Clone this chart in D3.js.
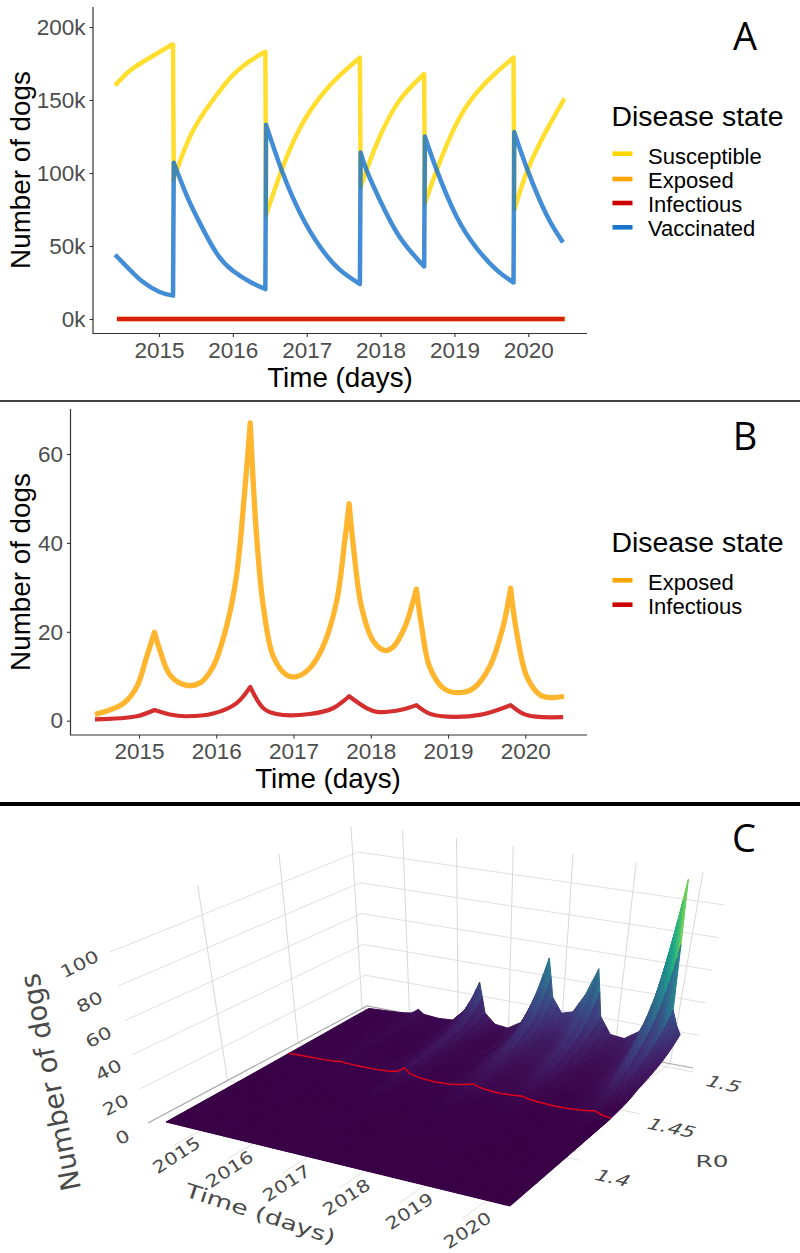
<!DOCTYPE html>
<html><head><meta charset="utf-8">
<script src="https://cdnjs.cloudflare.com/ajax/libs/d3/7.8.5/d3.min.js"></script>
<style>html,body{margin:0;padding:0;background:#fff}svg{display:block}</style></head>
<body><svg id="c" width="800" height="1253" xmlns="http://www.w3.org/2000/svg"></svg>
<script>
// ---------- Panel A/B data ----------
const yearTicks=[2015,2016,2017,2018,2019,2020];
const tickA=[0,50000,100000,150000,200000];
const tickB=[0,20,40,60];
const legendA=["Susceptible","Exposed","Infectious","Vaccinated"];
const legendB=["Exposed","Infectious"];
const timeS=[2014.405,2014.58,2014.78,2015.11,2015.19,2015.2,2015.22,2015.44,2015.73,2016.0,2016.27,2016.44,2016.45,2016.66,2016.91,2017.18,2017.45,2017.72,2017.73,2017.81,2017.99,2018.26,2018.59,2018.6,2018.76,2019.03,2019.3,2019.57,2019.8,2019.81,2019.99,2020.25,2020.49];
const susceptible=[160,169,176,186,188,97,99,127,150,167,178,183,71,102,131,152,167,179,90,102,125,150,167.8,79,102,134,155,169,179,74.6,102,129.5,151];
const timeV=[2014.405,2014.58,2014.78,2015.01,2015.19,2015.2,2015.38,2015.55,2015.78,2016.0,2016.23,2016.44,2016.45,2016.66,2016.91,2017.18,2017.45,2017.72,2017.73,2017.81,2017.99,2018.26,2018.59,2018.6,2018.76,2019.03,2019.3,2019.57,2019.8,2019.81,2019.99,2020.25,2020.47];
const vaccinated=[44,35,25.5,18.5,16,107,84,66,45,33,25.5,20.5,133,102,72.6,49.5,33.6,24,114,102,81.5,56,36,125,102,70,48.6,33.6,25,128,102,71,52.5];
const timeE=[2014.43,2014.62,2014.8,2014.97,2015.1,2015.2,2015.27,2015.4,2015.6,2015.79,2015.96,2016.13,2016.26,2016.37,2016.44,2016.52,2016.61,2016.74,2016.91,2017.04,2017.21,2017.38,2017.56,2017.66,2017.72,2017.77,2017.88,2018.03,2018.18,2018.29,2018.44,2018.55,2018.59,2018.66,2018.76,2018.94,2019.13,2019.33,2019.54,2019.71,2019.81,2019.89,2020.02,2020.19,2020.36,2020.5];
const exposed=[1.4,2.4,3.9,7.6,14.4,19.9,15.9,10.3,8,8.5,12.2,21,32.4,52,67,42,25.6,14.4,10.3,9.9,11.8,16.6,27,40,48.8,40,25.6,18,15.8,16.6,21,27,29.6,21,12.2,7.3,6.3,7.3,12.2,21,29.8,19.7,9.9,5.8,5.2,5.5];
const timeI=[2014.43,2014.97,2015.2,2015.4,2015.6,2015.96,2016.26,2016.44,2016.61,2016.78,2017.21,2017.51,2017.72,2017.95,2018.08,2018.38,2018.59,2018.76,2019.0,2019.41,2019.81,2019.97,2020.14,2020.49];
const infectious=[0.3,1,2.4,1.4,1,1.6,3.9,7.6,2.8,1.5,1.5,2.8,5.5,2.8,2,2.4,3.5,1.6,0.9,1.3,3.5,1.6,0.9,0.8];
// ---------- Panel C data ----------
const timeC=[2014.12,2014.5,2014.85,2015.05,2015.19,2015.3,2015.6,2015.9,2016.15,2016.32,2016.44,2016.55,2016.75,2017.0,2017.3,2017.55,2017.72,2017.82,2018.0,2018.2,2018.4,2018.59,2018.7,2018.9,2019.15,2019.4,2019.6,2019.72,2019.81,2019.9,2020.0,2020.08];
const r0Rows=[1.382,1.42,1.45,1.47,1.49,1.503];
const row1382=[0,0,0,0,0,0,0,0,0,0,0,0,0,0,0,0,0,0,0,0,0,0,0,0,0,0,0,0,0,0,0,0];
const row142=[.2,.2,.3,.4,.6,.4,.3,.3,.4,.7,1.3,.7,.4,.3,.4,.7,1,.7,.5,.5,.6,.7,.5,.3,.3,.3,.4,.6,.8,.5,.3,.2];
const row145=[.5,.8,1,1.4,2,1.6,1.4,1.5,2,3,6,3,1.6,1,1.5,3,4.5,3.2,2.4,2,2.4,3,2,1.4,1,1.3,1.8,2.4,3,1.6,.9,.6];
const row147=[.7,.8,1,1.5,2.5,1.5,1,1.3,2.8,5,8,4,2,1.5,2.8,7,11,6,4,4.5,7,11,5.5,3.2,2.5,3.5,7,13,20,9,6,4.5];
const row149=[1,1,1.5,2,3.5,2,1.5,2,5,9,14,6,3,2.5,5,15,25,13,9,10,16,24,11,6,5,8,17,32,50,18,13,10];
const row1503=[1,1.5,2,3,6,3.5,2.5,3,11,21,30,11,5,4,10,32,52,28,19,21,33,50,21,11,10,16,36,70,112,32,23,18];
const surfaceRows=[row1382,row142,row145,row147,row149,row1503];
const zTicks=[0,20,40,60,80,100];
const r0Ticks=[1.4,1.45,1.5];

const svg=d3.select("#c");
svg.append("rect").attr("width",800).attr("height",1253).attr("fill","#fff");
const ARIAL="'Liberation Sans',Arial,sans-serif";
const COL={s:"#FFD700",e:"#FFA500",i:"#CC0000",v:"#1874CD"};
const zip=(t,v,k=1)=>t.map((d,i)=>[d,v[i]*k]);

function panel(cfg){
  const g=svg.append("g");
  const x=d3.scaleLinear().domain([2015,2020]).range(cfg.xr);
  const y=d3.scaleLinear().domain(cfg.yd).range(cfg.yr);
  const natural=d3.line().x(d=>x(d[0])).y(d=>y(d[1])).curve(d3.curveNatural);
  const catmull=d3.line().x(d=>x(d[0])).y(d=>y(d[1])).curve(d3.curveCatmullRom.alpha(0.5));
  cfg.series.forEach(s=>{
    // split at cusps so that peaks and vertical jumps stay sharp
    const segs=[];let cur=[s.d[0]];
    s.d.forEach((p,i)=>{ if(i===0)return; cur.push(p);
      const nx=s.d[i+1]; if(!nx)return; const pv=s.d[i-1];
      const isMax=p[1]>pv[1]&&p[1]>nx[1],isMin=p[1]<pv[1]&&p[1]<nx[1];
      if(isMax||(s.breakMin&&isMin)){segs.push(cur);cur=[p];}
    });
    segs.push(cur);
    const line=s.breakMin?natural:catmull;
    const dStr=segs.map((sg,i)=>{const l=line(sg);return i?("L"+l.slice(1)):l;}).join("");
    g.append("path").attr("d",dStr).attr("fill","none").attr("stroke",s.c).attr("stroke-width",s.w)
     .attr("stroke-opacity",0.82).attr("stroke-linejoin","round");
  });
  const ax=g.append("g").attr("transform",`translate(0,${cfg.bottom})`)
    .call(d3.axisBottom(x).tickValues(yearTicks).tickFormat(d3.format("d")).tickSize(3.5).tickPadding(5));
  const ay=g.append("g").attr("transform",`translate(${cfg.left},0)`)
    .call(d3.axisLeft(y).tickValues(cfg.ticks).tickFormat(cfg.fmt).tickSize(3.5).tickPadding(4));
  [ax,ay].forEach(a=>{a.select(".domain").remove();
    a.selectAll("line").attr("stroke","#333").attr("stroke-width",1.1);
    a.selectAll("text").attr("fill","#4d4d4d").attr("font-family",ARIAL).attr("font-size",22.5);});
  ax.selectAll("text").attr("dy",null).attr("y",null).attr("transform",`translate(0,${cfg.tickBase-cfg.bottom})`);
  g.append("path").attr("d",`M${cfg.left},${cfg.top}V${cfg.bottom}H${cfg.right}`).attr("fill","none").attr("stroke","#333").attr("stroke-width",1.2);
  g.append("text").attr("x",cfg.xtx).attr("y",cfg.xty).attr("text-anchor","middle").attr("font-family",ARIAL).attr("font-size",27.8).attr("fill","#000").text("Time (days)");
  g.append("text").attr("transform",`translate(30,${cfg.yty}) rotate(-90)`).attr("text-anchor","middle").attr("font-family",ARIAL).attr("font-size",27.8).attr("fill","#000").text("Number of dogs");
  g.append("text").attr("x",611.5).attr("y",cfg.legY).attr("font-family",ARIAL).attr("font-size",28.4).attr("fill","#000").text("Disease state");
  cfg.legend.forEach(l=>{
    g.append("rect").attr("x",612.5).attr("y",l.y-2.3).attr("width",20).attr("height",4.6).attr("fill",l.c);
    g.append("text").attr("x",648).attr("y",l.b).attr("font-family",ARIAL).attr("font-size",22).attr("fill","#000").text(l.t);
  });
}
panel({xr:[159,528.3],yd:[0,200000],yr:[319,27],left:93,right:587,top:7,bottom:333.5,tickBase:358,
  ticks:tickA,fmt:d=>(d/1000)+"k",xtx:340,xty:387,yty:170,legY:126,
  series:[
    {d:zip(timeS,susceptible,1000),c:COL.s,w:4.5,breakMin:true},
    {d:zip(timeE,exposed),c:COL.e,w:4.5},
    {d:zip(timeI,infectious),c:COL.i,w:4.5},
    {d:zip(timeV,vaccinated,1000),c:COL.v,w:4.5,breakMin:true}],
  legend:[{t:legendA[0],c:COL.s,y:153.7,b:163.5},{t:legendA[1],c:COL.e,y:179,b:188},{t:legendA[2],c:COL.i,y:203,b:212.3},{t:legendA[3],c:COL.v,y:227.3,b:236}]
});
panel({xr:[139,525.3],yd:[0,60],yr:[720.7,454],left:70.5,right:587,top:409,bottom:735,tickBase:759,
  ticks:tickB,fmt:d3.format("d"),xtx:328,xty:788,yty:572,legY:551.7,
  series:[
    {d:zip(timeE,exposed),c:COL.e,w:5.3},
    {d:zip(timeI,infectious),c:COL.i,w:4.2}],
  legend:[{t:legendB[0],c:COL.e,y:580.3,b:590},{t:legendB[1],c:COL.i,y:604.7,b:614}]
});
// separators and panel letters
svg.append("rect").attr("x",0).attr("y",400).attr("width",800).attr("height",2).attr("fill","#404040");
svg.append("rect").attr("x",0).attr("y",802).attr("width",800).attr("height",4).attr("fill","#000");
[["A",745,50],["B",745,450],["C",744,852]].forEach(d=>svg.append("text").attr("x",d[1]).attr("y",d[2]).attr("text-anchor","middle")
  .attr("font-family","'Open Sans','Noto Sans',sans-serif").attr("font-size",38).attr("fill","#000").text(d[0]));

// ---------- Panel C : 3D projection ----------
function sq2quad(p0,p1,p2,p3){
  const [x0,y0]=p0,[x1,y1]=p1,[x2,y2]=p2,[x3,y3]=p3;
  const dx1=x1-x2,dx2=x3-x2,sx=x0-x1+x2-x3,dy1=y1-y2,dy2=y3-y2,sy=y0-y1+y2-y3;
  const den=dx1*dy2-dx2*dy1,g=(sx*dy2-dx2*sy)/den,h=(dx1*sy-sx*dy1)/den;
  const a=x1-x0+g*x1,b=x3-x0+h*x3,d=y1-y0+g*y1,e=y3-y0+h*y3;
  return (u,v)=>{const w=g*u+h*v+1;return [(a*u+b*v+x0)/w,(d*u+e*v+y0)/w];};
}
const floorH=sq2quad([148,1123],[505,1212],[693,1068],[367,1006]);
const topH=sq2quad([110,952],[516,1040],[725,905],[358,852]);
const surfH=sq2quad([166,1122],[510,1206],[675,1064],[369,1010]);
const uS=d3.scaleLinear().domain([2014.1,2020.4]).range([0,1]);
const vS=d3.scaleLinear().domain([1.349,1.504]).range([0,1]);
const zS=d3.scaleLinear().domain([0,100]).range([0,1]);
const uSurf=d3.scaleLinear().domain([2014.12,2020.08]).range([0,1]);
const vSurf=d3.scaleLinear().domain([1.382,1.503]).range([0,1]);
function proj(t,r,z){
  const u=uS(t),v=vS(r),f=floorH(u,v),p=topH(u,v),k=zS(z);
  return [f[0]+(p[0]-f[0])*k,f[1]+(p[1]-f[1])*k];
}
function projSurf(t,r,z){
  const b=surfH(uSurf(t),vSurf(r)),u=uS(t),v=vS(r),f=floorH(u,v),p=topH(u,v),k=zS(z);
  return [b[0]+(p[0]-f[0])*k,b[1]+(p[1]-f[1])*k];
}
const gC=svg.append("g");
const pl=d3.line();
function gl(pts,c,w){gC.append("path").attr("d",pl(pts)).attr("fill","none").attr("stroke",c||"#e0e0e0").attr("stroke-width",w||1);}
const T0=2014.1,T1=2020.4,R0a=1.349,R0b=1.504,ZTOP=118;
zTicks.filter(z=>z>0).forEach(z=>{gl([proj(T0,R0a,z),proj(T0,R0b,z),proj(T1,R0b,z)]);});
r0Ticks.forEach(r=>{gl([proj(T0,r,0),proj(T0,r,ZTOP)],"#d8d8d8");gl([proj(T0,r,0),proj(T1+0.08,r,0)]);});
yearTicks.forEach(y=>{gl([proj(y,R0b,0),proj(y,R0b,ZTOP)],"#d8d8d8");gl([proj(y,R0b,0),proj(y,R0a-0.012,0)]);});
gl([proj(T0,R0a,0),proj(T0,R0b,0),proj(T1,R0b,0)],"#a8a8a8",1.2);

// surface (painted from the back row forward)
const color=z=>{const c=d3.color(d3.interpolateViridis(Math.min(1,z/113)));return z<40?c.darker(0.5*(1-z/40)).formatHex():c.formatHex();};
const SUBV=7,SUBT=2;
const logIp=(a,b,k)=>Math.exp(Math.log(a+.25)*(1-k)+Math.log(b+.25)*k)-.25;
const fine=[];
for(let rI=0;rI<r0Rows.length-1;rI++){
  for(let s=0;s<SUBV;s++){const k=s/SUBV;
    fine.push({r:r0Rows[rI]+(r0Rows[rI+1]-r0Rows[rI])*k,vals:timeC.map((_,i)=>logIp(surfaceRows[rI][i],surfaceRows[rI+1][i],k))});
  }
}
fine.push({r:r0Rows[r0Rows.length-1],vals:row1503});
const gS=gC.append("g");
// flat backing so that no white shows through between the cells
gS.append("path").attr("d",pl([projSurf(2014.12,1.382,0),projSurf(2020.08,1.382,0),projSurf(2020.08,1.45,0),projSurf(2014.12,1.45,0)])+"Z").attr("fill",color(0));
for(let j=fine.length-2;j>=0;j--){
  const A=fine[j],B=fine[j+1];
  for(let i=0;i<timeC.length-1;i++){
    for(let s=0;s<SUBT;s++){
      const k0=s/SUBT,k1=(s+1)/SUBT;
      const t0=timeC[i]+(timeC[i+1]-timeC[i])*k0,t1=timeC[i]+(timeC[i+1]-timeC[i])*k1;
      const f=(row,k)=>row.vals[i]+(row.vals[i+1]-row.vals[i])*k;
      const z00=f(A,k0),z10=f(A,k1),z01=f(B,k0),z11=f(B,k1);
      const poly=[projSurf(t0,A.r,z00),projSurf(t1,A.r,z10),projSurf(t1,B.r,z11),projSurf(t0,B.r,z01)];
      const c=color((z00+z10+z01+z11)/4);
      gS.append("path").attr("d",pl(poly)+"Z").attr("fill",c).attr("stroke",c).attr("stroke-width",1).attr("stroke-linejoin","round");
    }
  }
}
// red contour along R0 = 1.45
gC.append("path").attr("d",pl(timeC.map((t,i)=>projSurf(t,1.45,row145[i])))).attr("fill","none").attr("stroke","#e0001b").attr("stroke-width",1.5);

// labels
const FONT="'DejaVu Sans',Verdana,sans-serif";
function lab(txt,x,y,rot,size,sx,skew,col){
  gC.append("text").attr("transform",`translate(${x},${y}) rotate(${rot}) skewX(${skew||0}) scale(${sx||1},1)`)
   .attr("text-anchor","middle").attr("dominant-baseline","middle").attr("font-family",FONT).attr("font-size",size).attr("fill",col||"#4a4a4a").text(txt);
}
const zPos=[[123,1138],[116,1106],[109,1071],[99,1038],[90,1003],[80,965]];
zTicks.forEach((z,i)=>lab(String(z),zPos[i][0],zPos[i][1],-27,17,1.25));
const yPos=[[177,1156],[230,1170],[287,1184],[347,1198],[410,1212],[468,1231]];
yearTicks.forEach((y,i)=>lab(String(y),yPos[i][0],yPos[i][1],-33,17,1.22));
const rPos=[[612,1179],[671,1129],[723,1085]];
r0Ticks.forEach((r,i)=>lab(String(r),rPos[i][0],rPos[i][1],12,16,1.35,-25));
lab("Time (days)",260,1215,18,19.5,1.36);
lab("Number of dogs",52,1082,-101,27.5,1);
lab("R0",712,1162,0,16,1.55);
</script></body></html>
